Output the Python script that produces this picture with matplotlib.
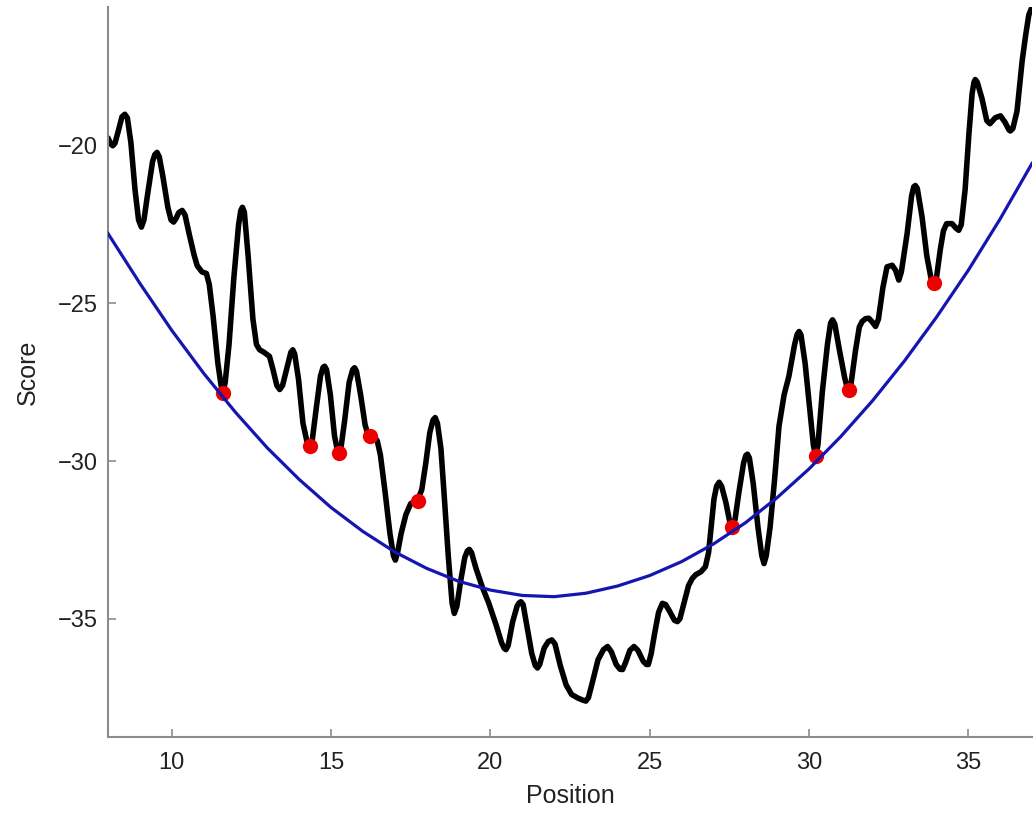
import matplotlib
matplotlib.use("Agg")
from matplotlib import pyplot as plt

# Score brut le long de la séquence (courbe noire), relevé point par point
POSITION = [
    8.00, 8.08, 8.15, 8.22, 8.32, 8.44, 8.53, 8.61, 8.72, 8.85,
    8.96, 9.05, 9.13, 9.25, 9.40, 9.47, 9.54, 9.61, 9.72, 9.88,
    9.98, 10.06, 10.14, 10.22, 10.33, 10.42, 10.55, 10.70, 10.80, 10.95,
    11.09, 11.18, 11.30, 11.45, 11.55, 11.61, 11.68, 11.80, 11.95, 12.10,
    12.17, 12.22, 12.28, 12.40, 12.55, 12.66, 12.76, 12.90, 13.07, 13.18,
    13.30, 13.39, 13.48, 13.63, 13.74, 13.80, 13.86, 13.98, 14.12, 14.25,
    14.33, 14.41, 14.54, 14.67, 14.75, 14.80, 14.86, 14.98, 15.11, 15.20,
    15.25, 15.31, 15.43, 15.57, 15.68, 15.74, 15.80, 15.93, 16.07, 16.16,
    16.23, 16.33, 16.45, 16.55, 16.70, 16.85, 16.96, 17.02, 17.09, 17.20,
    17.35, 17.50, 17.62, 17.72, 17.85, 17.97, 18.10, 18.20, 18.27, 18.34,
    18.45, 18.56, 18.68, 18.80, 18.87, 18.95, 19.07, 19.20, 19.28, 19.34,
    19.41, 19.55, 19.75, 19.95, 20.18, 20.35, 20.43, 20.49, 20.56, 20.70,
    20.84, 20.90, 20.96, 21.03, 21.16, 21.30, 21.41, 21.48, 21.55, 21.69,
    21.82, 21.93, 22.03, 22.20, 22.38, 22.55, 22.74, 22.90, 23.00, 23.08,
    23.22, 23.38, 23.55, 23.68, 23.80, 23.95, 24.07, 24.15, 24.24, 24.38,
    24.51, 24.63, 24.80, 24.90, 24.96, 25.05, 25.15, 25.28, 25.40, 25.50,
    25.62, 25.78, 25.87, 25.95, 26.08, 26.22, 26.34, 26.45, 26.61, 26.75,
    26.85, 26.94, 27.02, 27.10, 27.18, 27.26, 27.39, 27.52, 27.60, 27.68,
    27.80, 27.95, 28.02, 28.07, 28.13, 28.25, 28.40, 28.52, 28.59, 28.66,
    28.78, 28.92, 29.06, 29.22, 29.37, 29.55, 29.63, 29.69, 29.75, 29.88,
    30.02, 30.14, 30.21, 30.28, 30.42, 30.58, 30.68, 30.74, 30.81, 30.96,
    31.12, 31.20, 31.25, 31.32, 31.46, 31.58, 31.67, 31.78, 31.88, 31.98,
    32.09, 32.18, 32.32, 32.45, 32.61, 32.72, 32.82, 32.90, 33.08, 33.22,
    33.29, 33.34, 33.40, 33.55, 33.70, 33.84, 33.92, 34.00, 34.12, 34.22,
    34.32, 34.49, 34.62, 34.70, 34.78, 34.90, 35.02, 35.12, 35.18, 35.22,
    35.28, 35.43, 35.58, 35.68, 35.85, 36.01, 36.15, 36.28, 36.32, 36.40,
    36.53, 36.69, 36.80, 36.90, 37.00,
]
SCORE = [
    -19.75, -19.92, -20.00, -19.92, -19.55, -19.08, -19.00, -19.12, -19.90, -21.40,
    -22.35, -22.58, -22.35, -21.50, -20.50, -20.28, -20.21, -20.35, -20.95, -21.95,
    -22.35, -22.42, -22.30, -22.12, -22.05, -22.20, -22.80, -23.45, -23.80, -24.00,
    -24.05, -24.40, -25.40, -26.90, -27.60, -27.83, -27.50, -26.30, -24.20, -22.50,
    -22.05, -21.95, -22.10, -23.50, -25.50, -26.30, -26.47, -26.55, -26.68, -27.10,
    -27.60, -27.73, -27.60, -27.00, -26.55, -26.47, -26.60, -27.40, -28.80, -29.40,
    -29.52, -29.35, -28.30, -27.30, -27.03, -26.99, -27.10, -27.90, -29.20, -29.65,
    -29.73, -29.60, -28.70, -27.50, -27.10, -27.04, -27.15, -27.90, -28.85, -29.15,
    -29.20, -29.22, -29.35, -29.80, -31.00, -32.30, -33.00, -33.14, -32.90, -32.30,
    -31.70, -31.35, -31.28, -31.25, -30.90, -30.10, -29.10, -28.70, -28.62, -28.80,
    -29.60, -31.20, -33.00, -34.50, -34.83, -34.60, -33.80, -33.05, -32.85, -32.80,
    -32.90, -33.40, -34.00, -34.50, -35.19, -35.75, -35.93, -35.98, -35.85, -35.10,
    -34.60, -34.50, -34.46, -34.55, -35.30, -36.10, -36.48, -36.56, -36.45, -35.93,
    -35.72, -35.67, -35.80, -36.50, -37.10, -37.40, -37.51, -37.58, -37.61, -37.50,
    -36.95, -36.30, -35.98, -35.88, -36.05, -36.45, -36.60, -36.61, -36.40, -36.00,
    -35.88, -36.00, -36.35, -36.45, -36.45, -36.10, -35.50, -34.80, -34.51, -34.55,
    -34.75, -35.05, -35.09, -35.00, -34.50, -33.95, -33.72, -33.60, -33.51, -33.35,
    -32.90, -32.00, -31.20, -30.80, -30.67, -30.80, -31.30, -31.95, -32.09, -31.85,
    -31.00, -30.05, -29.82, -29.78, -29.90, -30.70, -32.10, -33.00, -33.25, -33.00,
    -32.10, -30.60, -28.89, -27.90, -27.31, -26.30, -25.98, -25.89, -26.00, -26.90,
    -28.30, -29.50, -29.83, -29.50, -27.80, -26.30, -25.62, -25.52, -25.65, -26.50,
    -27.35, -27.68, -27.73, -27.55, -26.50, -25.75, -25.57, -25.48, -25.47, -25.58,
    -25.73, -25.50, -24.50, -23.84, -23.79, -23.95, -24.26, -24.00, -22.79, -21.60,
    -21.30, -21.26, -21.35, -22.26, -23.50, -24.25, -24.36, -24.20, -23.30, -22.70,
    -22.47, -22.47, -22.62, -22.68, -22.50, -21.40, -19.63, -18.35, -17.98, -17.90,
    -17.98, -18.50, -19.20, -19.30, -19.11, -19.05, -19.25, -19.50, -19.53, -19.45,
    -18.90, -17.32, -16.50, -15.85, -15.60,
]

# Ajustement quadratique (courbe bleue)
FIT_POSITION = list(range(8, 38))
FIT_SCORE = [
    -22.78, -24.36, -25.85, -27.21, -28.45, -29.58, -30.58, -31.47, -32.23, -32.88,
    -33.40, -33.81, -34.09, -34.26, -34.30, -34.19, -33.96, -33.63, -33.19, -32.63,
    -31.96, -31.16, -30.25, -29.22, -28.08, -26.82, -25.44, -23.95, -22.32, -20.56,
]

# Minima locaux retenus (points rouges)
MIN_POSITION = [11.61, 14.33, 15.25, 16.23, 17.72, 27.60, 30.21, 31.25, 33.92]
MIN_SCORE = [-27.83, -29.52, -29.73, -29.20, -31.25, -32.09, -29.83, -27.73, -24.36]

AXIS_GREY = "#8c8c8c"
TEXT_COLOR = "#222222"

plt.rcParams["font.family"] = ["Liberation Sans", "DejaVu Sans"]

fig = plt.figure(figsize=(10.35, 8.17), dpi=100)
ax = fig.add_axes([0.1043, 0.0979, 0.8928, 0.8935])

ax.plot(POSITION, SCORE, color="black", linewidth=4.0,
        solid_joinstyle="round", solid_capstyle="round", zorder=2)
ax.plot(MIN_POSITION, MIN_SCORE, "o", color="#ee0000", markersize=11,
        markeredgewidth=0, zorder=3)
ax.plot(FIT_POSITION, FIT_SCORE, color="#1515b0", linewidth=2.3,
        solid_joinstyle="round", zorder=4)

ax.set_xlim(8, 37)
ax.set_ylim(-38.75, -15.6)
ax.set_xticks([10, 15, 20, 25, 30, 35])
ax.set_yticks([-35, -30, -25, -20])

# axes ouverts : seulement gauche et bas
for side in ("top", "right"):
    ax.spines[side].set_visible(False)
for side in ("left", "bottom"):
    ax.spines[side].set_color(AXIS_GREY)
    ax.spines[side].set_linewidth(1.5)

ax.tick_params(direction="in", length=6, width=1.2, color=AXIS_GREY,
               labelsize=17, labelcolor=TEXT_COLOR)
ax.tick_params(axis="x", pad=11)
ax.tick_params(axis="y", pad=7)

ax.set_xlabel("Position", fontsize=18, color=TEXT_COLOR)
ax.set_ylabel("Score", fontsize=18, color=TEXT_COLOR)
ax.xaxis.set_label_coords(0.5, -0.064)
ax.yaxis.set_label_coords(-0.074, 0.5)

fig.savefig("out.png", dpi=100)
